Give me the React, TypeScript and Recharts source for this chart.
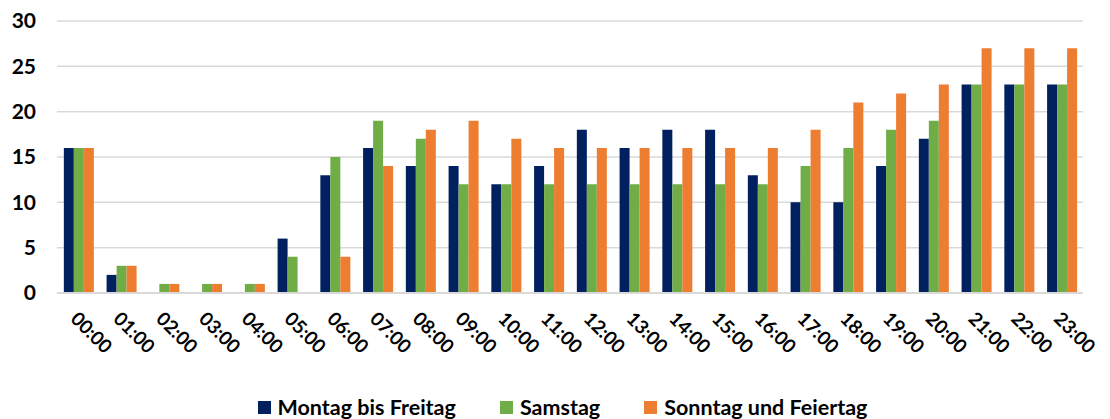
import React from "react";
import { BarChart, Bar, XAxis, YAxis, CartesianGrid, Legend } from "recharts";

const hours = ["00:00","01:00","02:00","03:00","04:00","05:00","06:00","07:00","08:00","09:00","10:00","11:00","12:00","13:00","14:00","15:00","16:00","17:00","18:00","19:00","20:00","21:00","22:00","23:00"];
const montagBisFreitag = [16,2,0,0,0,6,13,16,14,14,12,14,18,16,18,18,13,10,10,14,17,23,23,23];
const samstag = [16,3,1,1,1,4,15,19,17,12,12,12,12,12,12,12,12,14,16,18,19,23,23,23];
const sonntagUndFeiertag = [16,3,1,1,1,0,4,14,18,19,17,16,16,16,16,16,16,18,21,22,23,27,27,27];
const yTicks = [0,5,10,15,20,25,30];

const seriesNames = ["Montag bis Freitag", "Samstag", "Sonntag und Feiertag"];
const seriesColors = ["#002060", "#70AD47", "#ED7D31"];

const data = hours.map((h, i) => ({
  hour: h,
  mf: montagBisFreitag[i],
  sa: samstag[i],
  so: sonntagUndFeiertag[i],
}));

const FONT = "Lato, 'Open Sans', sans-serif";

const XTick = (props: any) => {
  const { x, y, payload } = props;
  return (
    <g transform={`translate(${x - 9},${y + 19}) rotate(45)`}>
      <text x={0} y={0} textAnchor="start" fill="#000" fontFamily={FONT} fontWeight={700} fontSize={19}>
        {payload.value}
      </text>
    </g>
  );
};

const LegendContent = () => (
  <div style={{ display: "flex", justifyContent: "center", alignItems: "center", fontFamily: FONT, fontWeight: 700, fontSize: 21.5, color: "#000", height: 24, paddingLeft: 42 }}>
    {seriesNames.map((n, i) => (
      <div key={n} style={{ display: "flex", alignItems: "center", marginRight: i < 2 ? 44 : 0 }}>
        <span style={{ display: "inline-block", width: 13, height: 13, background: seriesColors[i], marginRight: 7 }} />
        <span>{n}</span>
      </div>
    ))}
  </div>
);

export default function App() {
  return (
    <div>
      <style>{"body{margin:0;background:#fff}"}</style>
      <BarChart
        width={1110}
        height={419}
        data={data}
        margin={{ top: 21, right: 27, bottom: 0, left: 0 }}
        barCategoryGap="16%"
        barGap={0}
      >
        <CartesianGrid vertical={false} stroke="#D9D9D9" strokeWidth={1.5} />
        <XAxis
          dataKey="hour"
          interval={0}
          tick={<XTick />}
          tickLine={false}
          axisLine={{ stroke: "#D9D9D9", strokeWidth: 2 }}
          height={102}
        />
        <YAxis
          domain={[0, 30]}
          ticks={yTicks}
          width={57}
          tickLine={false}
          axisLine={false}
          tickMargin={15}
          tick={{ fill: "#000", fontFamily: FONT, fontWeight: 700, fontSize: 21 }}
        />
        <Legend verticalAlign="bottom" content={<LegendContent />} wrapperStyle={{ height: 24 }} />
        <Bar dataKey="mf" name={seriesNames[0]} fill={seriesColors[0]} isAnimationActive={false} />
        <Bar dataKey="sa" name={seriesNames[1]} fill={seriesColors[1]} isAnimationActive={false} />
        <Bar dataKey="so" name={seriesNames[2]} fill={seriesColors[2]} isAnimationActive={false} />
      </BarChart>
    </div>
  );
}
